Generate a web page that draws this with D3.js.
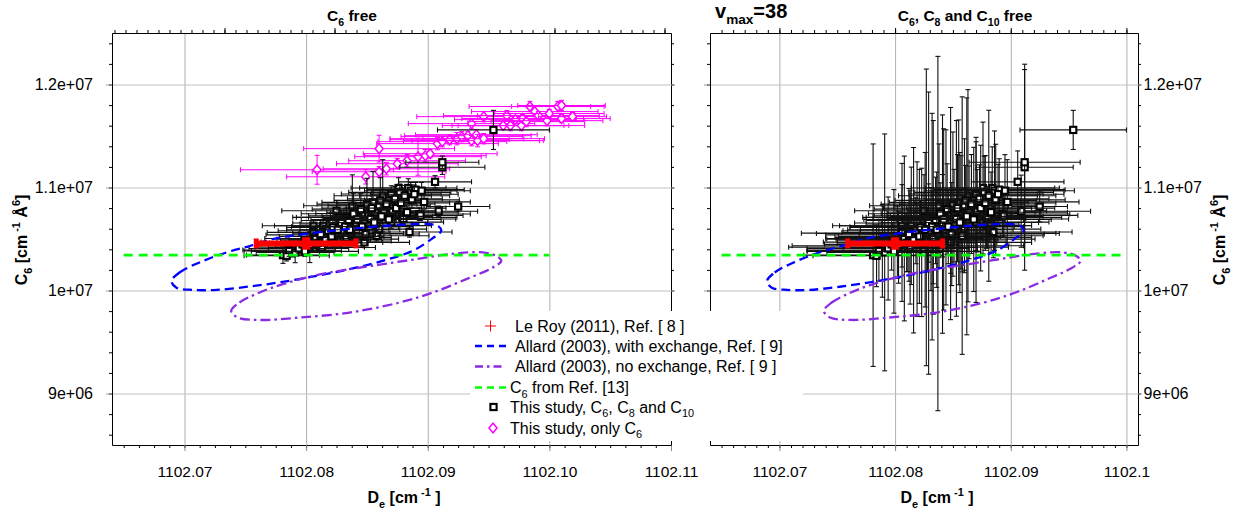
<!DOCTYPE html>
<html>
<head>
<meta charset="utf-8">
<script src="https://cdn.jsdelivr.net/npm/d3@7"></script>
<style>
  body { margin: 0; background: #fff; }
  svg { display: block; font-family: "Liberation Sans", Arial, sans-serif; }
  text { white-space: pre; }
</style>
</head>
<body>
<svg width="1236" height="512"></svg>
<script>
// ---- data ----
// This study, C6, C8 and C10 (same points in both panels, different error bars)
var blackDe = [1102.0781, 1102.0784, 1102.0789, 1102.0791, 1102.0803, 1102.0806, 1102.0806, 1102.0811, 1102.0813, 1102.0814,
  1102.0819, 1102.0823, 1102.0825, 1102.0827, 1102.0828, 1102.0829, 1102.0831, 1102.0833, 1102.0833, 1102.0837,
  1102.0838, 1102.0841, 1102.0841, 1102.0844, 1102.0848, 1102.0848, 1102.0849, 1102.0850, 1102.0851, 1102.0855,
  1102.0857, 1102.0858, 1102.0858, 1102.0860, 1102.0860, 1102.0863, 1102.0864, 1102.0870, 1102.0870, 1102.0871,
  1102.0876, 1102.0877, 1102.0879, 1102.0880, 1102.0884, 1102.0886, 1102.0885, 1102.0890, 1102.0893, 1102.0894,
  1102.0895, 1102.0906, 1102.0909, 1102.0912, 1102.0912, 1102.0925, 1102.0954,
  1102.0786, 1102.0794, 1102.0797, 1102.0799, 1102.0802, 1102.0808, 1102.0810, 1102.0812, 1102.0816, 1102.0818,
  1102.0821, 1102.0822, 1102.0826, 1102.0829, 1102.0832, 1102.0835, 1102.0836, 1102.0839, 1102.0842, 1102.0845,
  1102.0846, 1102.0853, 1102.0854, 1102.0856, 1102.0861, 1102.0862, 1102.0866, 1102.0868, 1102.0873, 1102.0874,
  1102.0878, 1102.0881, 1102.0883, 1102.0887, 1102.0889, 1102.0897];
var blackC6 = [1.0343e7, 1.0337e7, 1.0385e7, 1.0370e7, 1.0421e7, 1.0564e7, 1.0628e7, 1.0434e7, 1.0418e7, 1.0628e7,
  1.0499e7, 1.0467e7, 1.0774e7, 1.0710e7, 1.0480e7, 1.0557e7, 1.0499e7, 1.0710e7, 1.0516e7, 1.0553e7,
  1.0823e7, 1.0645e7, 1.0726e7, 1.0710e7, 1.0467e7, 1.0747e7, 1.0548e7, 1.0839e7, 1.0726e7, 1.0856e7,
  1.0759e7, 1.0630e7, 1.0531e7, 1.0596e7, 1.0823e7, 1.0920e7, 1.0759e7, 1.0937e7, 1.0664e7, 1.0774e7,
  1.0995e7, 1.0953e7, 1.0710e7, 1.0694e7, 1.0995e7, 1.0969e7, 1.0568e7, 1.0979e7, 1.0742e7, 1.0729e7,
  1.0969e7, 1.1055e7, 1.0770e7, 1.1197e7, 1.1245e7, 1.0815e7, 1.1559e7,
  1.0392e7, 1.0408e7, 1.0448e7, 1.0380e7, 1.0470e7, 1.0505e7, 1.0462e7, 1.0540e7, 1.0488e7, 1.0580e7,
  1.0525e7, 1.0612e7, 1.0590e7, 1.0655e7, 1.0620e7, 1.0680e7, 1.0590e7, 1.0745e7, 1.0690e7, 1.0790e7,
  1.0620e7, 1.0700e7, 1.0800e7, 1.0660e7, 1.0875e7, 1.0720e7, 1.0840e7, 1.0690e7, 1.0890e7, 1.0800e7,
  1.0850e7, 1.0920e7, 1.0760e7, 1.0880e7, 1.0935e7, 1.0860e7];
var blackDeErrLeft = [0.0030, 0.0035, 0.0040, 0.0032, 0.0045, 0.0038, 0.0042, 0.0036, 0.0044, 0.0040,
  0.0043, 0.0040, 0.0045, 0.0038, 0.0042, 0.0040, 0.0045, 0.0041, 0.0037, 0.0043,
  0.0040, 0.0046, 0.0039, 0.0042, 0.0037, 0.0040, 0.0044, 0.0041, 0.0038, 0.0042,
  0.0040, 0.0045, 0.0043, 0.0039, 0.0042, 0.0040, 0.0044, 0.0041, 0.0043, 0.0040,
  0.0039, 0.0042, 0.0045, 0.0043, 0.0040, 0.0038, 0.0035, 0.0040, 0.0042, 0.0035,
  0.0040, 0.0030, 0.0032, 0.0035, 0.0030, 0.0026, 0.0046,
  0.0038, 0.0041, 0.0036, 0.0044, 0.0039, 0.0042, 0.0040, 0.0045, 0.0037, 0.0041,
  0.0043, 0.0038, 0.0042, 0.0040, 0.0044, 0.0039, 0.0041, 0.0043, 0.0038, 0.0040,
  0.0042, 0.0039, 0.0041, 0.0044, 0.0038, 0.0042, 0.0040, 0.0043, 0.0039, 0.0041,
  0.0040, 0.0037, 0.0042, 0.0039, 0.0036, 0.0038];
var blackC6ErrLeft = [8e4, 5e4, 6e4, 1e5, 1.5e5, 7e4, 5e4, 6e4, 4e4, 8e4,
  5e4, 6e4, 1e5, 7e4, 5e4, 8e4, 6e4, 9e4, 5e4, 7e4,
  3e5, 6e4, 8e4, 1e5, 5e4, 7e4, 6e4, 2.5e5, 8e4, 3e5,
  7e4, 6e4, 5e4, 6e4, 8e4, 3.5e5, 7e4, 8e4, 6e4, 7e4,
  1e5, 8e4, 6e4, 5e4, 9e4, 8e4, 5e4, 7e4, 6e4, 5e4,
  8e4, 6e4, 5e4, 7e4, 6e4, 5e4, 1.9e5,
  6e4, 5e4, 7e4, 5e4, 6e4, 8e4, 5e4, 7e4, 6e4, 9e4,
  5e4, 7e4, 6e4, 1.2e5, 6e4, 8e4, 5e4, 2e5, 7e4, 1.5e5,
  6e4, 8e4, 1.8e5, 6e4, 2.2e5, 7e4, 9e4, 6e4, 1.2e5, 7e4,
  8e4, 1e5, 6e4, 8e4, 9e4, 7e4];
var blackDeErrRight = [0.0060, 0.0055, 0.0065, 0.0050, 0.0095, 0.0052, 0.0060, 0.0100, 0.0058, 0.0062,
  0.0070, 0.0065, 0.0060, 0.0055, 0.0068, 0.0110, 0.0090, 0.0058, 0.0085, 0.0105,
  0.0060, 0.0066, 0.0059, 0.0063, 0.0070, 0.0060, 0.0080, 0.0062, 0.0058, 0.0060,
  0.0064, 0.0060, 0.0070, 0.0066, 0.0061, 0.0060, 0.0062, 0.0058, 0.0063, 0.0060,
  0.0062, 0.0060, 0.0065, 0.0070, 0.0058, 0.0060, 0.0068, 0.0057, 0.0058, 0.0064,
  0.0060, 0.0040, 0.0060, 0.0042, 0.0048, 0.0024, 0.0046,
  0.0062, 0.0070, 0.0058, 0.0075, 0.0064, 0.0068, 0.0060, 0.0072, 0.0066, 0.0063,
  0.0070, 0.0061, 0.0067, 0.0064, 0.0071, 0.0060, 0.0066, 0.0062, 0.0069, 0.0063,
  0.0065, 0.0060, 0.0064, 0.0068, 0.0061, 0.0066, 0.0062, 0.0067, 0.0060, 0.0064,
  0.0061, 0.0058, 0.0066, 0.0060, 0.0057, 0.0062];
var blackC6ErrRight = [1.08e6, 3.0e5, 4.5e5, 1.15e6, 3.5e5, 6.7e5, 4.0e5, 2.5e5, 5.5e5, 5.7e5,
  7.5e5, 7.2e5, 3.5e5, 1.44e6, 3.0e5, 1.37e6, 5.0e5, 9.4e5, 4.5e5, 1.72e6,
  6.0e5, 1.06e6, 4.0e5, 8.5e5, 3.0e5, 1.03e6, 5.0e5, 7.0e5, 4.5e5, 8.0e5,
  5.5e5, 1.25e6, 3.5e5, 4.0e5, 6.5e5, 1.03e6, 4.5e5, 5.5e5, 7.8e5, 4.0e5,
  6.4e5, 3.5e5, 3.0e5, 2.8e5, 4.0e5, 5.8e5, 2.5e5, 3.0e5, 2.2e5, 2.0e5,
  3.5e5, 3.0e5, 3.5e5, 1.0e6, 9.0e5, 1.5e5, 1.9e5,
  3.0e5, 5.0e5, 2.5e5, 6.0e5, 3.5e5, 8.0e5, 2.8e5, 4.5e5, 9.0e5, 3.2e5,
  6.5e5, 2.6e5, 7.5e5, 3.8e5, 1.1e6, 4.2e5, 5.6e5, 3.0e5, 8.8e5, 4.4e5,
  3.6e5, 9.5e5, 5.2e5, 6.8e5, 3.4e5, 1.15e6, 4.8e5, 7.0e5, 3.3e5, 6.1e5,
  4.6e5, 8.3e5, 3.9e5, 5.4e5, 2.9e5, 4.1e5];

// This study, only C6 (left panel)
var onlyC6De = [1102.0809, 1102.0860, 1102.0849, 1102.0860, 1102.0866, 1102.0875, 1102.0883, 1102.0892, 1102.0898, 1102.0902,
  1102.0908, 1102.0912, 1102.0918, 1102.0924, 1102.0928, 1102.0933, 1102.0936, 1102.0940, 1102.0941, 1102.0946,
  1102.0936, 1102.0946, 1102.0962, 1102.0965, 1102.0968, 1102.0972, 1102.0977, 1102.0978, 1102.0981, 1102.0984,
  1102.0988, 1102.0991, 1102.0998, 1102.1000, 1102.1007, 1102.1010, 1102.1010, 1102.1019];
var onlyC6C6 = [1.1172e7, 1.1377e7, 1.1104e7, 1.1153e7, 1.1182e7, 1.1231e7, 1.1260e7, 1.1299e7, 1.1309e7, 1.1328e7,
  1.1426e7, 1.1445e7, 1.1464e7, 1.1474e7, 1.1494e7, 1.1503e7, 1.1455e7, 1.1513e7, 1.1455e7, 1.1474e7,
  1.1620e7, 1.1688e7, 1.1601e7, 1.1698e7, 1.1601e7, 1.1659e7, 1.1601e7, 1.1669e7, 1.1640e7, 1.1786e7,
  1.1737e7, 1.1698e7, 1.1649e7, 1.1718e7, 1.1786e7, 1.1796e7, 1.1669e7, 1.1688e7];
var onlyC6DeErr = [0.0063, 0.0062, 0.0065, 0.0055, 0.0052, 0.0050, 0.0048, 0.0052, 0.0050, 0.0055,
  0.0050, 0.0053, 0.0049, 0.0055, 0.0050, 0.0052, 0.0056, 0.0050, 0.0054, 0.0050,
  0.0052, 0.0055, 0.0050, 0.0052, 0.0048, 0.0050, 0.0052, 0.0050, 0.0048, 0.0050,
  0.0052, 0.0050, 0.0046, 0.0045, 0.0038, 0.0036, 0.0040, 0.0028];
var onlyC6C6Err = [1.4e5, 1.3e5, 7e4, 5e4, 6e4, 5e4, 6e4, 1.8e5, 6e4, 4e4,
  6e4, 5e4, 5e4, 6e4, 5e4, 4e4, 5e4, 5e4, 6e4, 5e4,
  5e4, 5e4, 4e4, 5e4, 5e4, 4e4, 5e4, 4e4, 5e4, 5e4,
  5e4, 4e4, 5e4, 4e4, 5e4, 5e4, 4e4, 4e4];

// Le Roy (2011)
var leRoyDe = 1102.0800, leRoyC6 = 1.0457e7, leRoyDeErr = 0.0041, leRoyC6Err = 6e4;

// C6 from Ref. [13]
var ref13C6 = 1.0343e7;
var ref13De = [1102.065, 1102.100];

// Allard (2003) contours
var allardExDe = [1102.06893, 1102.06959, 1102.07123, 1102.07345, 1102.07535, 1102.07724, 1102.07863, 1102.08192,
  1102.08521, 1102.08809, 1102.09015, 1102.09089, 1102.09111, 1102.09039, 1102.08875, 1102.08628, 1102.08357,
  1102.08086, 1102.07806, 1102.07535, 1102.07263, 1102.07066, 1102.06934];
var allardExC6 = [1.00904e7, 1.01750e7, 1.02723e7, 1.03696e7, 1.04309e7, 1.04990e7, 1.05282e7, 1.05768e7,
  1.06157e7, 1.06400e7, 1.06449e7, 1.06225e7, 1.05797e7, 1.05058e7, 1.03852e7, 1.02879e7, 1.02071e7,
  1.01420e7, 1.00836e7, 1.00388e7, 1.00058e7, 1.00058e7, 1.00272e7];
var allardNoExDe = [1102.07384, 1102.07452, 1102.07617, 1102.07808, 1102.08083, 1102.08357, 1102.08631, 1102.08905,
  1102.09179, 1102.09453, 1102.09563, 1102.09604, 1102.09535, 1102.09317, 1102.09042, 1102.08768, 1102.08357,
  1102.07946, 1102.07617, 1102.07438];
var allardNoExC6 = [9.80147e6, 9.88319e6, 9.98047e6, 1.00612e7, 1.01488e7, 1.02071e7, 1.02558e7, 1.03044e7,
  1.03531e7, 1.03696e7, 1.03365e7, 1.02879e7, 1.02237e7, 1.01099e7, 9.98047e6, 9.88319e6, 9.78591e6,
  9.73727e6, 9.71392e6, 9.73727e6];

// tick labels
var yTicks = [9e6, 1e7, 1.1e7, 1.2e7];
var yTickLabels = ["9e+06", "1e+07", "1.1e+07", "1.2e+07"];
var xTicksLeft = [1102.07, 1102.08, 1102.09, 1102.10, 1102.11];
var xTickLabelsLeft = ["1102.07", "1102.08", "1102.09", "1102.10", "1102.11"];
var xTicksRight = [1102.07, 1102.08, 1102.09, 1102.1];
var xTickLabelsRight = ["1102.07", "1102.08", "1102.09", "1102.1"];

// ---- drawing ----
var svg = d3.select("svg");
var FONT = 16;

var y = d3.scaleLinear().domain([8.5e6, 1.25e7]).range([445, 33]);
var yMinor = d3.range(43, 63).map(function (k) { return k * 2e5; });

// write text with sub/superscripts: parts = [[text], [text,"sub"], [text,"sup"]]
function rich(sel, parts, size) {
  var base = 0;
  parts.forEach(function (p) {
    var off = p[1] == "sub" ? 0.3 * size : p[1] == "sup" ? -0.45 * size : 0;
    sel.append("tspan")
      .attr("dy", off - base)
      .attr("font-size", p[1] ? size * 0.68 : size)
      .text(p[0]);
    base = off;
  });
  return sel;
}

var left = {
  id: "L",
  x: d3.scaleLinear().domain([1102.06404, 1102.11]).range([112, 671]),
  xTicks: xTicksLeft, xLabels: xTickLabelsLeft, xGrid: xTicksLeft.slice(0, 4),
  minorStep: 0.00125,
  labelSide: "left",
  title: [["C"], ["6", "sub"], [" free"]], titleX: 352,
  xLabelX: 404, yLabelX: 27
};
left.xMinor = d3.range(-6, 33).map(function (k) { return 1102.07 + k * left.minorStep; });
// top axis of the left pad has its own division
left.xTop = d3.scaleLinear().domain([-1.0227, 4.059]).range([112, 671]);
left.xTopMajor = [0, 1, 2, 3, 4];
left.xTopMinor = d3.range(-10, 41).map(function (k) { return k / 10; });

var right = {
  id: "R",
  x: d3.scaleLinear().domain([1102.064, 1102.101]).range([710, 1138]),
  xTicks: xTicksRight, xLabels: xTickLabelsRight, xGrid: xTicksRight,
  minorStep: 0.001,
  labelSide: "right",
  title: [["C"], ["6", "sub"], [", C"], ["8", "sub"], [" and C"], ["10", "sub"], [" free"]], titleX: 965,
  xLabelX: 937, yLabelX: 1225
};
right.xMinor = d3.range(-6, 32).map(function (k) { return 1102.07 + k * right.minorStep; });
right.xTop = right.x;
right.xTopMajor = xTicksRight;
right.xTopMinor = right.xMinor;

function inside(sc) {
  var d = sc.domain();
  return function (v) { return v > d[0] + 1e-9 && v < d[1] - 1e-9; };
}

function styleAxis(g, color) {
  g.selectAll("path.domain").attr("stroke", "#000").attr("stroke-width", 1);
  g.selectAll(".tick line").attr("stroke", color || "#000");
  g.selectAll(".tick text").attr("fill", "#000").attr("font-size", FONT)
    .attr("font-family", "Liberation Sans, Arial, sans-serif");
}

function drawGrid(p) {
  var xr = p.x.range(), yr = y.range();
  var g = svg.append("g").attr("class", "grid");
  g.append("g").attr("transform", "translate(0," + yr[0] + ")")
    .call(d3.axisBottom(p.x).tickValues(p.xGrid).tickSize(-(yr[0] - yr[1])).tickFormat(""))
    .call(function (s) { s.select(".domain").remove(); s.selectAll("line").attr("stroke", "#b0b0b0"); });
  g.append("g").attr("transform", "translate(" + xr[0] + ",0)")
    .call(d3.axisLeft(y).tickValues(yTicks).tickSize(-(xr[1] - xr[0])).tickFormat(""))
    .call(function (s) { s.select(".domain").remove(); s.selectAll("line").attr("stroke", "#c0c0c0"); });
}

function drawAxes(p) {
  var xr = p.x.range(), yr = y.range();
  var g = svg.append("g").attr("class", "axes");
  // bottom
  g.append("g").attr("transform", "translate(0," + yr[0] + ")")
    .call(d3.axisBottom(p.x).tickValues(p.xMinor.filter(inside(p.x))).tickSize(3).tickSizeOuter(0).tickFormat(""))
    .call(styleAxis);
  g.append("g").attr("transform", "translate(0," + yr[0] + ")")
    .call(d3.axisBottom(p.x).tickValues(p.xTicks).tickSize(6).tickSizeOuter(0).tickPadding(15)
      .tickFormat(function (d, i) { return p.xLabels[i]; }))
    .call(function (s) { styleAxis(s, "#888"); s.select(".domain").remove(); s.selectAll("text").attr("font-size", 15.5); });
  // top
  g.append("g").attr("transform", "translate(0," + yr[1] + ")")
    .call(d3.axisTop(p.xTop).tickValues(p.xTopMinor.filter(inside(p.xTop))).tickSize(3).tickSizeOuter(0).tickFormat(""))
    .call(styleAxis);
  g.append("g").attr("transform", "translate(0," + yr[1] + ")")
    .call(d3.axisTop(p.xTop).tickValues(p.xTopMajor.filter(inside(p.xTop))).tickSize(5).tickSizeOuter(0).tickFormat(""))
    .call(function (s) { styleAxis(s); s.select(".domain").remove(); });
  // left and right sides
  [["left", xr[0], d3.axisLeft], ["right", xr[1], d3.axisRight]].forEach(function (side) {
    g.append("g").attr("transform", "translate(" + side[1] + ",0)")
      .call(side[2](y).tickValues(yMinor).tickSize(3).tickSizeOuter(0).tickFormat(""))
      .call(styleAxis);
    var labelled = side[0] == p.labelSide;
    var ax = side[2](y).tickValues(yTicks).tickSizeOuter(0)
      .tickSize(side[0] == "left" ? 6 : 4)
      .tickPadding(side[0] == "left" ? 13 : 1.5)
      .tickFormat(function (d, i) { return labelled ? yTickLabels[i] : ""; });
    g.append("g").attr("transform", "translate(" + side[1] + ",0)")
      .call(ax)
      .call(function (s) { styleAxis(s, "#999"); s.select(".domain").remove(); });
  });

  // titles and axis labels
  rich(svg.append("text").attr("x", p.titleX).attr("y", 21).attr("text-anchor", "middle")
    .attr("font-weight", "bold"), p.title, 15.5);
  rich(svg.append("text").attr("x", p.xLabelX).attr("y", 503).attr("text-anchor", "middle")
    .attr("font-weight", "bold"), [["D"], ["e", "sub"], [" [cm"], [" -1", "sup"], [" ]"]], 16);
  rich(svg.append("text").attr("transform", "translate(" + p.yLabelX + ",240) rotate(-90)")
    .attr("text-anchor", "middle").attr("font-weight", "bold"),
    [["C"], ["6", "sub"], [" [cm"], [" -1", "sup"], [" Å"], ["6", "sup"], ["]"]], 16);
}

function drawPoints(g, p, De, C6, dDe, dC6, opt) {
  var cap = 2.5;
  De.forEach(function (d, i) {
    var cx = p.x(d), cy = y(C6[i]);
    var xl = p.x(d - dDe[i]), xr = p.x(d + dDe[i]);
    var yt = y(C6[i] + dC6[i]), yb = y(C6[i] - dC6[i]);
    var pt = g.append("g").attr("stroke", opt.color).attr("stroke-width", opt.bar);
    pt.append("line").attr("x1", xl).attr("x2", xr).attr("y1", cy).attr("y2", cy);
    pt.append("line").attr("x1", xl).attr("x2", xl).attr("y1", cy - cap).attr("y2", cy + cap);
    pt.append("line").attr("x1", xr).attr("x2", xr).attr("y1", cy - cap).attr("y2", cy + cap);
    pt.append("line").attr("x1", cx).attr("x2", cx).attr("y1", yt).attr("y2", yb);
    pt.append("line").attr("x1", cx - cap).attr("x2", cx + cap).attr("y1", yt).attr("y2", yt);
    pt.append("line").attr("x1", cx - cap).attr("x2", cx + cap).attr("y1", yb).attr("y2", yb);
    marker(g, opt.marker, cx, cy);
  });
}

function marker(g, kind, cx, cy) {
  if (kind == "square") {
    g.append("rect").attr("x", cx - 3.1).attr("y", cy - 3.1).attr("width", 6.2).attr("height", 6.2)
      .attr("fill", "#fff").attr("stroke", "#000").attr("stroke-width", 2.1);
  } else {
    g.append("path")
      .attr("d", "M" + cx + "," + (cy - 4.8) + "L" + (cx + 4) + "," + cy + "L" + cx + "," + (cy + 4.8) + "L" + (cx - 4) + "," + cy + "Z")
      .attr("fill", "#fff").attr("stroke", "#ff00ff").attr("stroke-width", 1.5);
  }
}

var exStyle = { stroke: "#0000ff", dash: "9,5" };
var noExStyle = { stroke: "#8a2be2", dash: "10,4,2.5,4" };

function drawPanel(p, withOnlyC6, deErr, c6Err) {
  drawGrid(p);
  var xr = p.x.range(), yr = y.range();
  svg.append("clipPath").attr("id", "clip" + p.id).append("rect")
    .attr("x", xr[0]).attr("y", yr[1]).attr("width", xr[1] - xr[0]).attr("height", yr[0] - yr[1]);
  var g = svg.append("g").attr("clip-path", "url(#clip" + p.id + ")");

  if (withOnlyC6) {
    drawPoints(g, p, onlyC6De, onlyC6C6, onlyC6DeErr, onlyC6C6Err, { color: "#ff00ff", bar: 1, marker: "diamond" });
  }
  drawPoints(g, p, blackDe, blackC6, deErr, c6Err, { color: "#111", bar: 1.1, marker: "square" });

  var line = d3.line()
    .x(function (d) { return p.x(d[0]); })
    .y(function (d) { return y(d[1]); })
    .curve(d3.curveCatmullRomClosed);
  g.append("path").datum(d3.zip(allardExDe, allardExC6)).attr("d", line)
    .attr("fill", "none").attr("stroke", exStyle.stroke).attr("stroke-width", 2.3).attr("stroke-dasharray", exStyle.dash);
  g.append("path").datum(d3.zip(allardNoExDe, allardNoExC6)).attr("d", line)
    .attr("fill", "none").attr("stroke", noExStyle.stroke).attr("stroke-width", 2.3).attr("stroke-dasharray", noExStyle.dash);

  g.append("line")
    .attr("x1", p.x(ref13De[0])).attr("x2", p.x(ref13De[1]))
    .attr("y1", y(ref13C6)).attr("y2", y(ref13C6))
    .attr("stroke", "#00ff00").attr("stroke-width", 2.6).attr("stroke-dasharray", "9,6");

  // Le Roy (2011)
  var red = g.append("g").attr("stroke", "#ff0000");
  var ly = y(leRoyC6);
  var lx1 = p.x(leRoyDe - leRoyDeErr), lx2 = p.x(leRoyDe + leRoyDeErr);
  red.append("line").attr("x1", lx1).attr("x2", lx2).attr("y1", ly).attr("y2", ly).attr("stroke-width", 6);
  red.append("line").attr("x1", lx1).attr("x2", lx1).attr("y1", ly - 5).attr("y2", ly + 5).attr("stroke-width", 5);
  red.append("line").attr("x1", lx2).attr("x2", lx2).attr("y1", ly - 5).attr("y2", ly + 5).attr("stroke-width", 5);
  red.append("line").attr("x1", p.x(leRoyDe)).attr("x2", p.x(leRoyDe))
    .attr("y1", y(leRoyC6 + leRoyC6Err)).attr("y2", y(leRoyC6 - leRoyC6Err)).attr("stroke-width", 8);

  drawAxes(p);
}

drawPanel(left, true, blackDeErrLeft, blackC6ErrLeft);
drawPanel(right, false, blackDeErrRight, blackC6ErrRight);

// v_max label
rich(svg.append("text").attr("x", 715).attr("y", 18).attr("font-weight", "bold"),
  [["v"], ["max", "sub"], ["=38"]], 20);

// ---- legend ----
var leg = svg.append("g");
leg.append("rect").attr("x", 470).attr("y", 311).attr("width", 333).attr("height", 130).attr("fill", "#fff");

var legendLabels = [
  [["Le Roy (2011), Ref. [ 8 ]"]],
  [["Allard (2003), with exchange, Ref. [ 9]"]],
  [["Allard (2003), no exchange, Ref. [ 9 ]"]],
  [["C"], ["6", "sub"], [" from Ref. [13]"]],
  [["This study, C"], ["6", "sub"], [", C"], ["8", "sub"], [" and C"], ["10", "sub"]],
  [["This study, only C"], ["6", "sub"]]
];
var legendRowY = [326, 346, 366.5, 387.5, 407, 428];
var legendTextX = [515, 515, 515, 510, 510, 510];

// symbols
leg.append("line").attr("x1", 485).attr("x2", 496).attr("y1", legendRowY[0]).attr("y2", legendRowY[0]).attr("stroke", "#ff0000");
leg.append("line").attr("x1", 490.5).attr("x2", 490.5).attr("y1", legendRowY[0] - 5.5).attr("y2", legendRowY[0] + 5.5).attr("stroke", "#ff0000");
leg.append("line").attr("x1", 475).attr("x2", 507).attr("y1", legendRowY[1]).attr("y2", legendRowY[1])
  .attr("stroke", exStyle.stroke).attr("stroke-width", 2.6).attr("stroke-dasharray", "7,5");
leg.append("line").attr("x1", 475).attr("x2", 505).attr("y1", legendRowY[2]).attr("y2", legendRowY[2])
  .attr("stroke", noExStyle.stroke).attr("stroke-width", 2.6).attr("stroke-dasharray", "8,4,2.5,4");
leg.append("line").attr("x1", 475).attr("x2", 509).attr("y1", legendRowY[3]).attr("y2", legendRowY[3])
  .attr("stroke", "#00ff00").attr("stroke-width", 2.6).attr("stroke-dasharray", "7,5");
marker(leg, "square", 493.5, legendRowY[4]);
marker(leg, "diamond", 493, legendRowY[5]);

legendLabels.forEach(function (parts, i) {
  rich(leg.append("text").attr("x", legendTextX[i]).attr("y", legendRowY[i] + 5.5), parts, FONT);
});
</script>
</body>
</html>
